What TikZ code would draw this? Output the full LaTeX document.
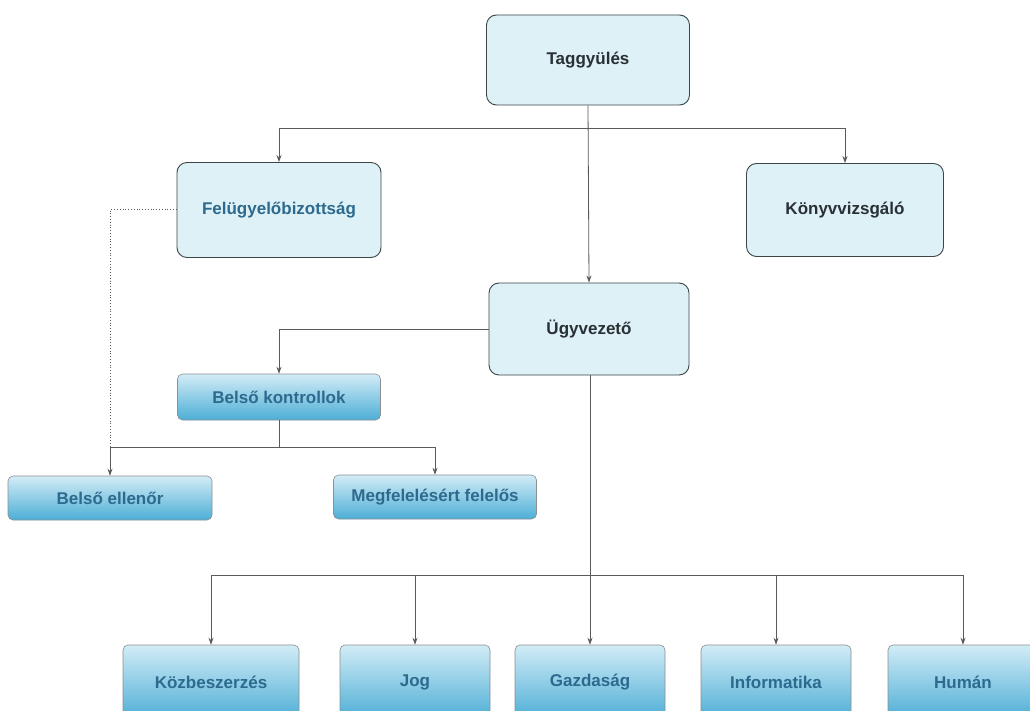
\documentclass[tikz,border=0pt]{standalone}
\usepackage{fontspec}
\setmainfont{Liberation Sans}
\usetikzlibrary{arrows.meta}
\definecolor{lightfill}{HTML}{DDF1F7}
\definecolor{boxborder}{HTML}{3C4448}
\definecolor{bluetop}{HTML}{D2ECF6}
\definecolor{bluebot}{HTML}{4DAED6}
\definecolor{bluetext}{HTML}{2E6A8E}
\definecolor{darktext}{HTML}{2A3034}
\definecolor{linecol}{HTML}{5A5A5A}
\tikzset{
  x=1pt, y=-1pt,
  lightbox/.style={draw=boxborder, line width=0.9pt, fill=lightfill, rounded corners=10pt,
    font=\fontsize{17}{20}\selectfont\bfseries, text=darktext, inner sep=0pt},
  bluebox/.style={draw=boxborder!60, line width=0.6pt, top color=bluetop, bottom color=bluebot,
    rounded corners=5pt, font=\fontsize{17}{20}\selectfont\bfseries, text=bluetext, inner sep=0pt},
  conn/.style={draw=linecol, line width=0.8pt},
  arr/.style={conn, -{Stealth[length=7pt,width=5pt]}},
}
\begin{document}
\begin{tikzpicture}
\useasboundingbox (0,0) rectangle (1030,711);
\fill[white] (0,0) rectangle (1030,711);

\node[lightbox, minimum width=203pt, minimum height=90pt] (tag) at (588,60) {Taggyülés};
\node[lightbox, minimum width=204pt, minimum height=95pt, text=bluetext] (fel) at (279,210) {Felügyelőbizottság};
\node[lightbox, minimum width=197pt, minimum height=93pt] (kony) at (845,210) {Könyvvizsgáló};
\node[lightbox, minimum width=200pt, minimum height=92pt] (ugy) at (589,329) {Ügyvezető};

\node[bluebox, minimum width=203pt, minimum height=46pt] (bk) at (279,397) {Belső kontrollok};
\node[bluebox, minimum width=204pt, minimum height=44pt] (be) at (110,498) {Belső ellenőr};
\node[bluebox, minimum width=203pt, minimum height=44pt] (mf) at (435,497) {Megfelelésért felelős};

\node[bluebox, minimum width=176pt, minimum height=74pt] (koz) at (211,682) {Közbeszerzés};
\node[bluebox, minimum width=150pt, minimum height=74pt] (jog) at (415,682) {Jog};
\node[bluebox, minimum width=150pt, minimum height=74pt] (gaz) at (590,682) {Gazdaság};
\node[bluebox, minimum width=150pt, minimum height=74pt] (inf) at (776,682) {Informatika};
\node[bluebox, minimum width=150pt, minimum height=74pt] (hum) at (963,682) {Humán};

% top level
\coordinate (bus1) at (588,128);
\draw[arr] (tag.south) -- (ugy.north);
\draw[arr] (bus1) -| (fel.north);
\draw[arr] (bus1) -| (kony.north);

% Ügyvezető to Belső kontrollok
\draw[arr] (ugy.west) -| (bk.north);

% Belső kontrollok bus
\coordinate (bus2) at (279,447);
\draw[conn] (bk.south) -- (bus2);
\draw[arr] (bus2) -| (be.north);
\draw[arr] (bus2) -| (mf.north);

% dotted line from Felügyelőbizottság
\coordinate (dotend) at (110,447);
\draw[conn, dotted, line width=1pt] (fel.west) -| (dotend);

% bottom bus
\coordinate (bus3) at (590,575);
\draw[arr] (ugy.south -| gaz.north) -- (gaz.north);
\draw[arr] (bus3) -| (koz.north);
\draw[arr] (bus3) -| (jog.north);
\draw[arr] (bus3) -| (inf.north);
\draw[arr] (bus3) -| (hum.north);
\end{tikzpicture}
\end{document}
